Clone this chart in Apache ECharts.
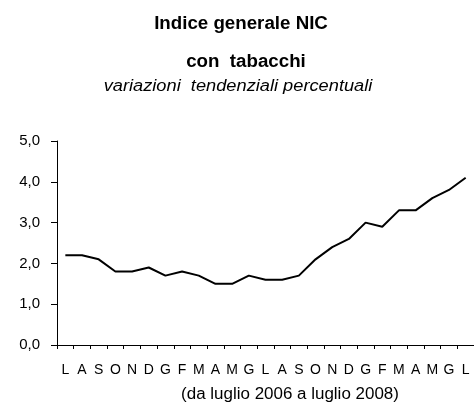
<!DOCTYPE html>
<html>
<head>
<meta charset="utf-8">
<script src="https://cdn.jsdelivr.net/npm/echarts@6/dist/echarts.min.js"></script>
<style>
  html, body { margin: 0; padding: 0; background: #fff; }
  #chart { width: 474px; height: 403px; }
</style>
</head>
<body>
<div id="chart"></div>
<script>
  // mesi da luglio 2006 a luglio 2008
  let mesi = ['L','A','S','O','N','D','G','F','M','A','M','G','L','A','S','O','N','D','G','F','M','A','M','G','L'];
  // variazioni tendenziali percentuali
  let valori = [2.2, 2.2, 2.1, 1.8, 1.8, 1.9, 1.7, 1.8, 1.7, 1.5, 1.5, 1.7, 1.6, 1.6, 1.7, 2.1, 2.4, 2.6, 3.0, 2.9, 3.3, 3.3, 3.6, 3.8, 4.1];
  let yTicks = [0, 1, 2, 3, 4, 5];

  let chart = echarts.init(document.getElementById('chart'));
  let font = '"Liberation Sans", Arial, sans-serif';

  let option = {
    animation: false,
    backgroundColor: '#fff',
    graphic: [
      {
        type: 'text', x: 241, y: 24, scaleX: 1.04, scaleY: 1.05,
        style: { text: 'Indice generale NIC', font: 'bold 18px ' + font, fill: '#000', align: 'center', verticalAlign: 'middle' }
      },
      {
        type: 'text', x: 246, y: 62, scaleX: 1.04, scaleY: 1.05,
        style: { text: 'con  tabacchi', font: 'bold 18px ' + font, fill: '#000', align: 'center', verticalAlign: 'middle' }
      },
      {
        type: 'text', x: 238, y: 87, scaleX: 1.14,
        style: { text: 'variazioni  tendenziali percentuali', font: 'italic 16px ' + font, fill: '#000', align: 'center', verticalAlign: 'middle' }
      },
      {
        type: 'text', x: 290, y: 395, scaleX: 1.06,
        style: { text: '(da luglio 2006 a luglio 2008)', font: '16px ' + font, fill: '#000', align: 'center', verticalAlign: 'middle' }
      }
    ],
    grid: {
      left: 57,
      top: 141,
      width: 420,
      height: 204,
      containLabel: false
    },
    xAxis: {
      type: 'category',
      data: mesi,
      boundaryGap: true,
      axisLine: { lineStyle: { color: '#000', width: 1 } },
      axisTick: { show: true, length: 4, lineStyle: { color: '#000' } },
      axisLabel: { color: '#000', fontFamily: font, fontSize: 14, margin: 18, interval: 0 },
      splitLine: { show: false }
    },
    yAxis: {
      type: 'value',
      min: yTicks[0],
      max: yTicks[yTicks.length - 1],
      interval: 1,
      axisLine: { show: true, lineStyle: { color: '#000', width: 1 } },
      axisTick: { show: true, length: 6, lineStyle: { color: '#000' } },
      axisLabel: {
        color: '#000', fontFamily: font, fontSize: 15, margin: 17,
        formatter: function (v) { return v.toFixed(1).replace('.', ','); }
      },
      splitLine: { show: false }
    },
    series: [{
      type: 'line',
      data: valori,
      symbol: 'none',
      lineStyle: { color: '#000', width: 2 },
      itemStyle: { color: '#000' }
    }]
  };
  chart.setOption(option);
</script>
</body>
</html>
